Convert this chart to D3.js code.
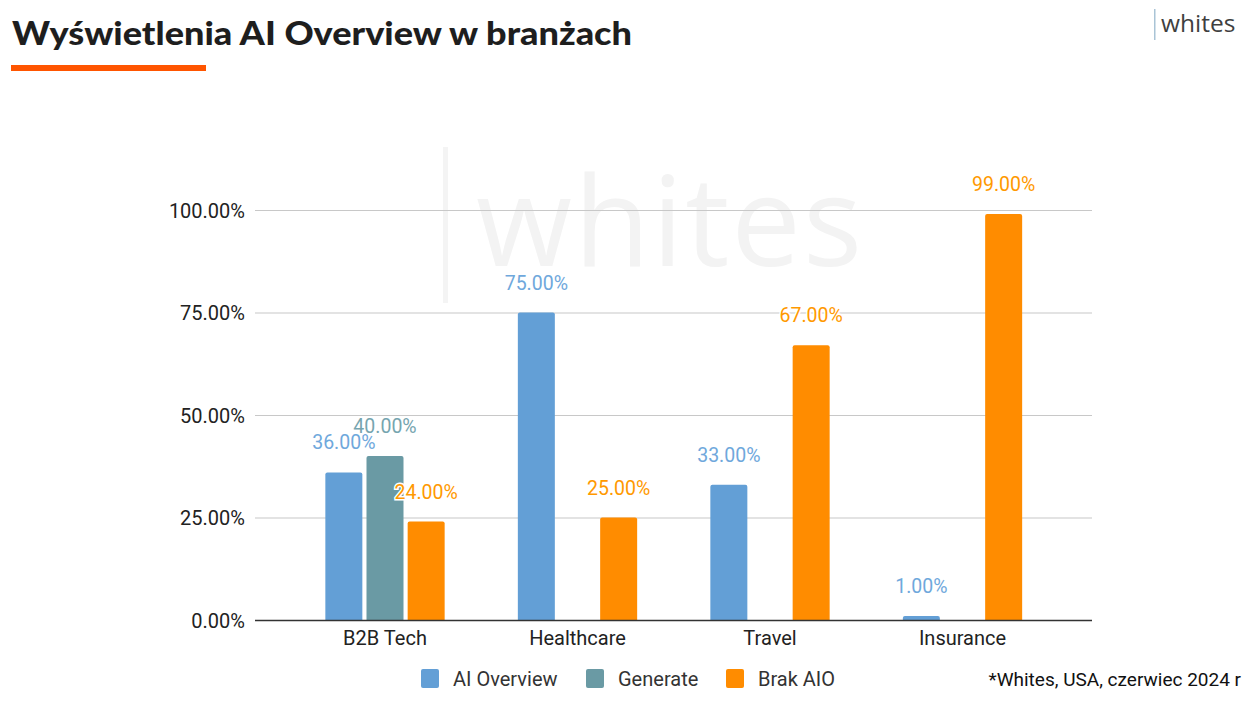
<!DOCTYPE html>
<html><head><meta charset="utf-8">
<script src="https://cdn.jsdelivr.net/npm/d3@7"></script>
<style>html,body{margin:0;padding:0;background:#fff;}svg{display:block;}</style>
</head><body>
<svg id="c" width="1258" height="705"></svg>
<script>
const categories = ["B2B Tech", "Healthcare", "Travel", "Insurance"];
const seriesNames = ["AI Overview", "Generate", "Brak AIO"];
const aiOverview = [36, 75, 33, 1];
const generate = [40, null, null, null];
const brakAIO = [24, 25, 67, 99];
const yTicks = [0, 25, 50, 75, 100];
const colors = ["#639fd6", "#6a9aa4", "#ff8c00"];
const labelColors = ["#6fa8dc", "#76a5af", "#ff9900"];
const seriesValues = [aiOverview, generate, brakAIO];

const svg = d3.select("#c");
const font = "Roboto, 'Liberation Sans', Arial, sans-serif";

// watermark
svg.append("rect").attr("x", 443).attr("y", 147).attr("width", 5).attr("height", 156).attr("fill", "#f4f4f4");
svg.append("text").attr("x", 476).attr("y", 266).attr("font-family", "'Open Sans', sans-serif")
  .attr("font-size", 124).attr("fill", "#f3f3f3").attr("textLength", 386).text("whites");

// title
svg.append("text").attr("x", 12).attr("y", 45).attr("font-family", "Lato, sans-serif").attr("font-weight", 900)
  .attr("font-size", 33).attr("fill", "#1e1e1e").attr("textLength", 620).attr("lengthAdjust", "spacingAndGlyphs")
  .text("Wyświetlenia AI Overview w branżach");
svg.append("rect").attr("x", 11).attr("y", 65).attr("width", 195).attr("height", 6).attr("fill", "#ff5500");

// logo
svg.append("rect").attr("x", 1154).attr("y", 9).attr("width", 1.5).attr("height", 31).attr("fill", "#a9c4d6");
svg.append("text").attr("x", 1161).attr("y", 32).attr("font-family", "'Open Sans', sans-serif")
  .attr("font-size", 24.5).attr("fill", "#3f3f3f").text("whites");

const x0 = d3.scaleBand().domain(categories).range([288.75, 1058.75]).paddingInner(0.38).paddingOuter(0.19);
const x1 = d3.scaleBand().domain(seriesNames).range([0, x0.bandwidth()]).paddingInner(0.1);
const y = d3.scaleLinear().domain([0, 100]).range([620, 210]);

// gridlines
const g = svg.append("g");
g.selectAll("line.grid").data(yTicks.filter(d => d > 0)).join("line")
  .attr("x1", 255).attr("x2", 1092).attr("y1", d => y(d) + 0.5).attr("y2", d => y(d) + 0.5)
  .attr("stroke", "#c8c8c8").attr("stroke-width", 1.2);

// y labels
const yAxis = d3.axisLeft(y).tickValues(yTicks).tickSize(0).tickPadding(0).tickFormat(d => d.toFixed(2) + "%");
const ya = svg.append("g").attr("transform", "translate(245,0)").call(yAxis);
ya.select(".domain").remove();
ya.selectAll("text").attr("font-family", font).attr("font-size", 20).attr("fill", "#222").attr("dy", "0.35em");

// bars
const r = 2;
function barPath(x, yy, w, h) {
  if (h <= 0) return "";
  const rr = Math.min(r, h);
  return `M${x},${yy + h}V${yy + rr}Q${x},${yy} ${x + rr},${yy}H${x + w - rr}Q${x + w},${yy} ${x + w},${yy + rr}V${yy + h}Z`;
}
const bw = 37;
seriesNames.forEach((s, si) => {
  const data = categories.map((c, i) => ({ c, v: seriesValues[si][i] })).filter(d => d.v != null);
  const off = x1(s) + (x1.bandwidth() - bw) / 2;
  svg.append("g").selectAll("path").data(data).join("path")
    .attr("d", d => barPath(x0(d.c) + off, y(d.v), bw, y(0) - y(d.v)))
    .attr("fill", colors[si]);
});

// baseline
svg.append("line").attr("x1", 255).attr("x2", 1092).attr("y1", 620.5).attr("y2", 620.5).attr("stroke", "#333").attr("stroke-width", 1.3);

// value labels
seriesNames.forEach((s, si) => {
  const data = categories.map((c, i) => ({ c, v: seriesValues[si][i] })).filter(d => d.v != null);
  const off = x1(s) + x1.bandwidth() / 2;
  svg.append("g").selectAll("text").data(data).join("text")
    .attr("x", d => x0(d.c) + off).attr("y", d => y(d.v) - 23)
    .attr("text-anchor", "middle").attr("font-family", font).attr("font-size", 19.5)
    .attr("fill", labelColors[si]).attr("stroke", "#fff").attr("stroke-width", 3).attr("paint-order", "stroke")
    .text(d => d.v.toFixed(2) + "%");
});

// x labels
const xAxis = d3.axisBottom(x0).tickSize(0).tickPadding(0);
const xa = svg.append("g").attr("transform", "translate(0,638)").call(xAxis);
xa.select(".domain").remove();
xa.selectAll("text").attr("font-family", font).attr("font-size", 20).attr("fill", "#222").attr("dy", "0.35em");

// legend
const legX = [421, 586, 726];
const leg = svg.append("g");
seriesNames.forEach((s, i) => {
  leg.append("rect").attr("x", legX[i]).attr("y", 669).attr("width", 18).attr("height", 19).attr("rx", 2).attr("fill", colors[i]);
  leg.append("text").attr("x", legX[i] + 32).attr("y", 679).attr("dy", "0.35em").attr("font-family", font)
    .attr("font-size", 20).attr("fill", "#333").text(s);
});

// footnote
svg.append("text").attr("x", 1241).attr("y", 679).attr("dy", "0.35em").attr("text-anchor", "end")
  .attr("font-family", font).attr("font-size", 19).attr("fill", "#111").text("*Whites, USA, czerwiec 2024 r");
</script>
</body></html>
